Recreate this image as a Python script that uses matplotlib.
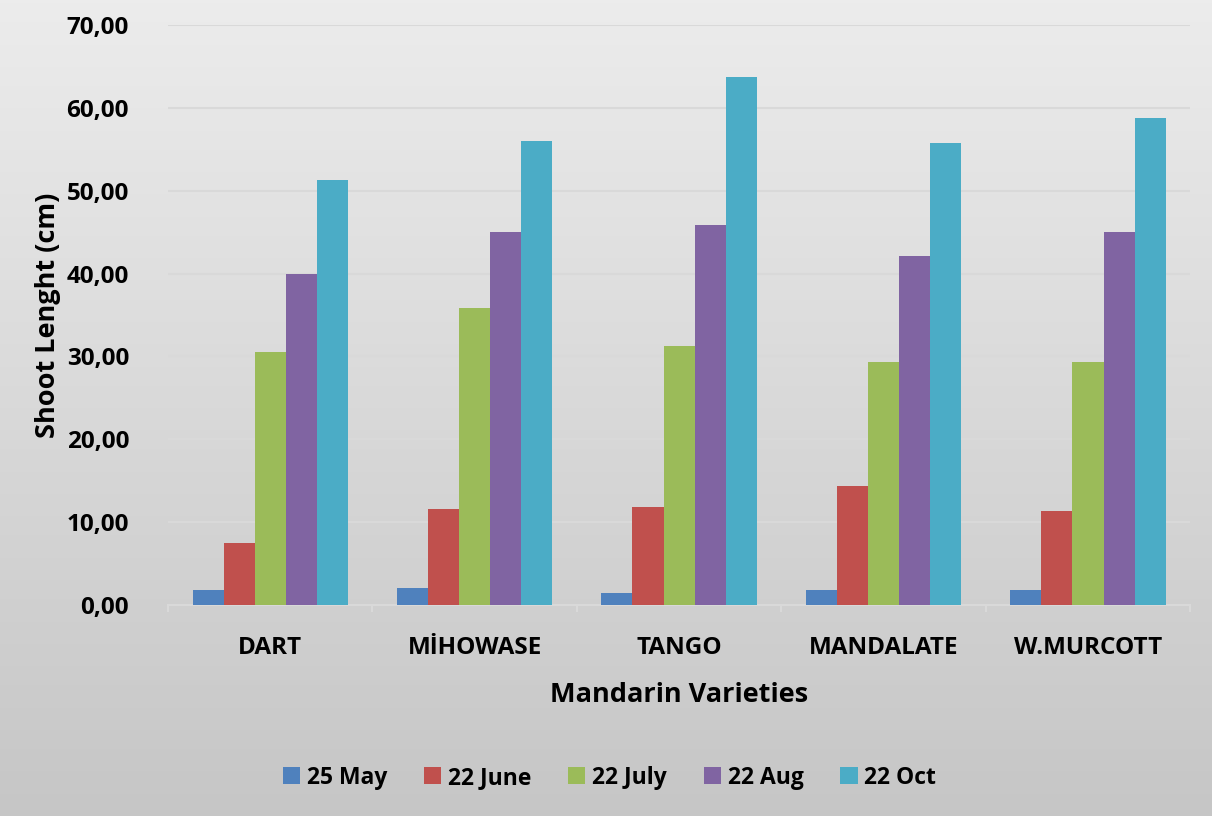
import matplotlib.pyplot as plt
import numpy as np

plt.rcParams['font.family'] = ['Open Sans', 'DejaVu Sans']
plt.rcParams['font.weight'] = 'bold'

varieties = ['DART', 'MİHOWASE', 'TANGO', 'MANDALATE', 'W.MURCOTT']
dates = ['25 May', '22 June', '22 July', '22 Aug', '22 Oct']
may = [1.8, 2.1, 1.5, 1.8, 1.8]
june = [7.5, 11.6, 11.8, 14.4, 11.4]
july = [30.5, 35.8, 31.2, 29.3, 29.3]
aug = [40.0, 45.0, 45.9, 42.1, 45.0]
octo = [51.3, 56.0, 63.7, 55.8, 58.8]
colors = ['#4F81BD', '#C0504D', '#9BBB59', '#8064A2', '#4BACC6']

series = [may, june, july, aug, octo]

fig = plt.figure(figsize=(12.12, 8.16), dpi=100)

# grey gradient background
bg = fig.add_axes([0, 0, 1, 1], zorder=-10)
grad = np.linspace(0, 1, 256).reshape(-1, 1)
bg.imshow(grad, aspect='auto', cmap=plt.matplotlib.colors.LinearSegmentedColormap.from_list(
    'g', ['#ececec', '#c6c6c6']), extent=[0, 1, 0, 1], origin='upper')
bg.axis('off')

ax = fig.add_axes([0.1386, 0.2586, 0.8434, 0.7108])
ax.patch.set_alpha(0)

x = np.arange(len(varieties))
w = 0.152
for i, (vals, lab, c) in enumerate(zip(series, dates, colors)):
    ax.bar(x + (i - 2) * w, vals, w, color=c, label=lab, zorder=3)

ax.set_xlim(-0.5, len(varieties) - 0.5)
ax.set_ylim(0, 70)
ax.set_yticks(np.arange(0, 71, 10))
ax.set_yticklabels([f'{v:.2f}'.replace('.', ',') for v in np.arange(0, 71, 10)],
                   fontsize=17.5, fontweight='bold')
ax.set_xticks(x)
ax.set_xticklabels(varieties, fontsize=17.5, fontweight='bold')
ax.set_xticks(np.arange(-0.5, len(varieties), 1), minor=True)
ax.tick_params(axis='x', which='major', length=0, pad=22)
ax.tick_params(axis='x', which='minor', length=5, color='#d9d9d9', width=1.5)
ax.tick_params(axis='y', length=0, pad=28)
ax.grid(axis='y', color='#d9d9d9', linewidth=1.5, zorder=0)
for s in ['top', 'right', 'left']:
    ax.spines[s].set_visible(False)
ax.spines['bottom'].set_color('#d9d9d9')
ax.spines['bottom'].set_linewidth(1.5)

ax.set_ylabel('Shoot Lenght (cm)', fontsize=19.5, fontweight='bold', labelpad=4)
ax.set_xlabel('Mandarin Varieties', fontsize=19.5, fontweight='bold', labelpad=16)

fig.legend(loc='center', bbox_to_anchor=(0.503, 0.047), ncol=5, frameon=False,
           handlelength=0.75, handleheight=0.75, handletextpad=0.3,
           columnspacing=1.6, prop={'weight': 'bold', 'size': 16.5})

fig.savefig('out.png', dpi=100)
